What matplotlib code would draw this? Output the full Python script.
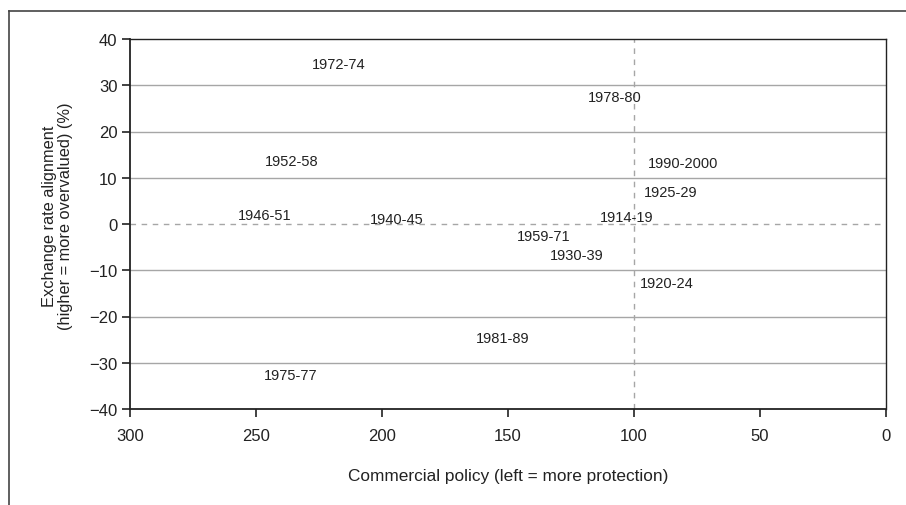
import matplotlib
matplotlib.use("Agg")
import matplotlib.pyplot as plt
from matplotlib.lines import Line2D

periods = ["1972-74", "1978-80", "1952-58", "1990-2000", "1925-29", "1914-19",
           "1946-51", "1940-45", "1959-71", "1930-39", "1920-24", "1981-89", "1975-77"]
policy = [217.1, 107.5, 235.9, 80.6, 85.3, 102.8, 246.6, 194.2, 135.7, 122.7, 87.0, 152.0, 236.1]
alignment = [34.6, 27.5, 13.6, 13.2, 7.0, 1.6, 1.85, 1.1, -2.7, -6.6, -12.7, -24.6, -32.7]

xticks = [300, 250, 200, 150, 100, 50, 0]
yticks = [40, 30, 20, 10, 0, -10, -20, -30, -40]

plt.rcParams['font.family'] = ['Liberation Sans', 'DejaVu Sans']

fig = plt.figure(figsize=(9.06, 5.06), dpi=100)
ax = fig.add_axes([130/906, 1 - 410/506, 756/906, 370/506])

ax.set_xlim(300, 0)
ax.set_ylim(-40, 40)
ax.set_xticks(xticks)
ax.set_yticks(yticks)

for yv in yticks[1:-1]:
    if yv == 0:
        continue
    ax.axhline(yv, color='#a6a6a6', lw=1.0, zorder=1)
ax.axhline(0, color='#a6a6a6', lw=1.0, ls=(0, (4, 4)), zorder=1)
ax.axvline(100, color='#a6a6a6', lw=1.0, ls=(0, (4, 4)), zorder=1)

for lab, xv, yv in zip(periods, policy, alignment):
    ax.text(xv, yv, lab, ha='center', va='center', fontsize=10.5, color='#222222', zorder=3)

for s in ax.spines.values():
    s.set_color('#222222')
    s.set_linewidth(1.0)
ax.spines['left'].set_linewidth(1.3)
ax.spines['bottom'].set_linewidth(1.3)

ax.tick_params(axis='both', direction='out', length=6, width=1.2, color='#222222',
               labelsize=12, labelcolor='#222222')
ax.tick_params(axis='x', pad=8)
ax.tick_params(axis='y', pad=3)

ax.set_xlabel("Commercial policy (left = more protection)", fontsize=12.4, color='#222222', labelpad=18)
ax.set_ylabel("Exchange rate alignment\n(higher = more overvalued) (%)", fontsize=11.8,
              color='#222222', labelpad=10, linespacing=1.1)
ax.yaxis.set_label_coords(-0.075, 0.524)

# outer frame (left and top edges)
fig.add_artist(Line2D([9/906, 9/906], [0, 1 - 12/506], transform=fig.transFigure,
                      color='#444444', lw=1.2))
fig.add_artist(Line2D([9/906, 1], [1 - 12/506, 1 - 12/506], transform=fig.transFigure,
                      color='#444444', lw=1.2))

fig.savefig("out.png", dpi=100)
